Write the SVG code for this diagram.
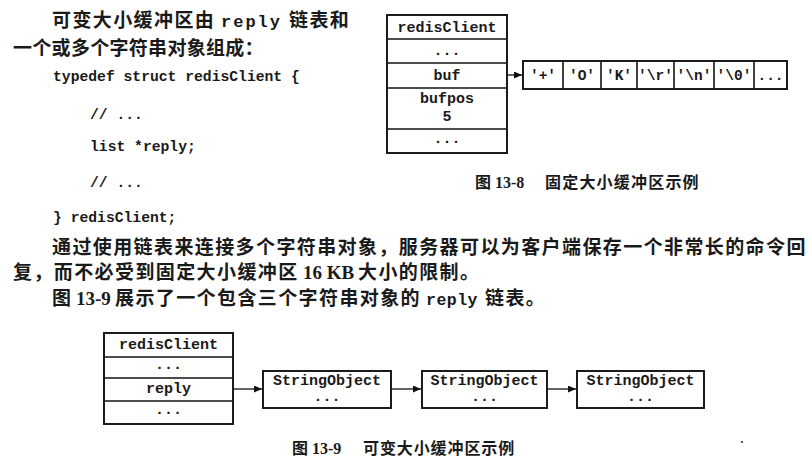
<svg xmlns="http://www.w3.org/2000/svg" width="812" height="472" viewBox="0 0 812 472">
<style>
.bg{fill:#ffffff}
.cjk{font-family:"Liberation Serif","Noto Sans CJK SC",serif;font-weight:bold;font-size:19px;fill:#1a1a1a;letter-spacing:1.4px}
.lat{font-family:"Liberation Serif","Noto Sans CJK SC",serif;font-weight:bold;font-size:19px;fill:#1a1a1a;letter-spacing:0}
.mono{font-family:"Liberation Mono","Courier New",monospace;font-weight:bold;fill:#1a1a1a}
.code{font-size:14.7px}
.lbl{font-size:15px;text-anchor:middle}
.cell{font-size:14.5px;text-anchor:middle}
.cap{font-family:"Liberation Serif","Noto Sans CJK SC",serif;font-weight:bold;font-size:16px;fill:#1a1a1a}
.box{fill:#ffffff;stroke:#111;stroke-width:1.9}
.div{stroke:#111;stroke-width:1.6;fill:none}
.con{stroke:#111;stroke-width:1.3;fill:none}
</style>
<defs>
<marker id="ah" markerUnits="userSpaceOnUse" markerWidth="9" markerHeight="8" refX="8" refY="3.5" orient="auto">
<path d="M0,0 L8,3.5 L0,7 z" fill="#111"/>
</marker>
</defs>
<rect class="bg" x="0" y="0" width="812" height="472"/>

<g id="text-intro">
<text class="cjk" x="52" y="27">可变大小缓冲区由</text>
<text class="mono" x="221" y="27" font-size="17" letter-spacing="2">reply</text>
<text class="cjk" x="289" y="27">链表和</text>
<text class="cjk" x="13" y="55" style="letter-spacing:0.3px">一个或多个字符串对象组成：</text>
</g>

<g id="code">
<text class="mono code" x="53" y="81">typedef struct redisClient {</text>
<text class="mono code" x="90" y="119">// ...</text>
<text class="mono code" x="90" y="151">list *reply;</text>
<text class="mono code" x="90" y="187">// ...</text>
<text class="mono code" x="53" y="222">} redisClient;</text>
</g>

<g id="text-body">
<text class="cjk" x="52" y="254">通过使用链表来连接多个字符串对象，服务器可以为客户端保存一个非常长的命令回</text>
<text class="cjk" x="13" y="279">复，而不必受到固定大小缓冲区</text>
<text class="lat" x="303" y="279">16 KB</text>
<text class="cjk" x="358" y="279">大小的限制。</text>
<text class="cjk" x="52" y="305">图</text>
<text class="lat" x="76" y="305">13-9</text>
<text class="cjk" x="115" y="305">展示了一个包含三个字符串对象的</text>
<text class="mono" x="426" y="305" font-size="16.5" letter-spacing="0.5">reply</text>
<text class="cjk" x="485" y="305">链表。</text>
</g>

<g id="fig13-8-redisClient">
<rect class="box" x="387" y="15" width="120" height="138"/>
<line class="div" x1="387" y1="39" x2="507" y2="39"/>
<line class="div" x1="387" y1="63" x2="507" y2="63"/>
<line class="div" x1="387" y1="88" x2="507" y2="88"/>
<line class="div" x1="387" y1="129" x2="507" y2="129"/>
<text class="mono lbl" x="447" y="32">redisClient</text>
<text class="mono lbl" x="447" y="55">...</text>
<text class="mono lbl" x="447" y="80">buf</text>
<text class="mono lbl" x="447" y="103">bufpos</text>
<text class="mono lbl" x="447" y="121">5</text>
<text class="mono lbl" x="447" y="143">...</text>
</g>

<g id="fig13-8-buf">
<rect class="box" x="523" y="61" width="264" height="28"/>
<line class="div" x1="563" y1="61" x2="563" y2="89"/>
<line class="div" x1="601" y1="61" x2="601" y2="89"/>
<line class="div" x1="637" y1="61" x2="637" y2="89"/>
<line class="div" x1="674" y1="61" x2="674" y2="89"/>
<line class="div" x1="714" y1="61" x2="714" y2="89"/>
<line class="div" x1="754" y1="61" x2="754" y2="89"/>
<text class="mono cell" x="543" y="80">'+'</text>
<text class="mono cell" x="582" y="80">'O'</text>
<text class="mono cell" x="619" y="80">'K'</text>
<text class="mono cell" x="655.5" y="80">'\r'</text>
<text class="mono cell" x="694" y="80">'\n'</text>
<text class="mono cell" x="734" y="80">'\0'</text>
<text class="mono cell" x="770.5" y="80">...</text>
</g>

<g id="fig13-9-redisClient">
<rect class="box" x="104" y="333" width="129" height="91"/>
<line class="div" x1="104" y1="357" x2="233" y2="357"/>
<line class="div" x1="104" y1="378" x2="233" y2="378"/>
<line class="div" x1="104" y1="401" x2="233" y2="401"/>
<text class="mono lbl" x="168.5" y="349">redisClient</text>
<text class="mono lbl" x="168.5" y="369">...</text>
<text class="mono lbl" x="168.5" y="393">reply</text>
<text class="mono lbl" x="168.5" y="414">...</text>
</g>

<g id="stringobject-1">
<rect class="box" x="263" y="371" width="128" height="37"/>
<text class="mono lbl" x="327" y="385">StringObject</text>
<text class="mono lbl" x="327" y="401">...</text>
</g>
<g id="stringobject-2">
<rect class="box" x="422" y="371" width="125" height="37"/>
<text class="mono lbl" x="484.5" y="385">StringObject</text>
<text class="mono lbl" x="484.5" y="401">...</text>
</g>
<g id="stringobject-3">
<rect class="box" x="577" y="371" width="127" height="37"/>
<text class="mono lbl" x="640.5" y="385">StringObject</text>
<text class="mono lbl" x="640.5" y="401">...</text>
</g>

<g id="connectors">
<line class="con" x1="507" y1="75" x2="522" y2="75" marker-end="url(#ah)"/>
<line class="con" x1="233" y1="389" x2="262" y2="389" marker-end="url(#ah)"/>
<line class="con" x1="391" y1="389" x2="421" y2="389" marker-end="url(#ah)"/>
<line class="con" x1="547" y1="389" x2="576" y2="389" marker-end="url(#ah)"/>
</g>

<g id="captions">
<text class="cap" x="475" y="188">图 <tspan>13-8</tspan></text>
<text class="cap" x="545" y="188" style="letter-spacing:1.2px">固定大小缓冲区示例</text>
<text class="cap" x="292" y="454">图 <tspan>13-9</tspan></text>
<text class="cap" x="363" y="454" style="letter-spacing:0.9px">可变大小缓冲区示例</text>
</g>

<circle cx="742" cy="442" r="1.1" fill="#333"/>
</svg>
